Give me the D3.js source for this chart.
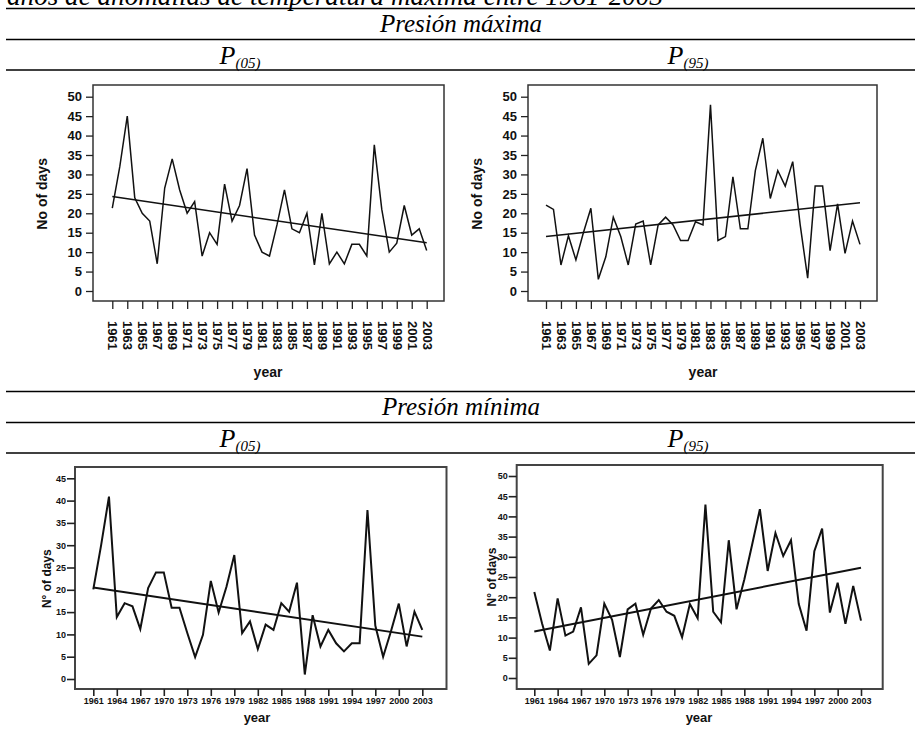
<!DOCTYPE html>
<html lang="es">
<head>
<meta charset="UTF-8">
<title>Presión máxima / mínima</title>
<script src="https://d3js.org/d3.v7.min.js"></script>
<style>
  body { margin: 0; background: #fff; }
  .hdr { font-family: "Liberation Serif", "Times New Roman", serif; font-style: italic; fill: #000; }
  .ax text { font-family: "Liberation Sans", Arial, sans-serif; font-weight: bold; fill: #111; }
  .ax line, .ax path { stroke: #222; }
</style>
</head>
<body>
<svg id="chart" width="915" height="741"></svg>
<script>
// years on the x axis
const years = d3.range(1961, 2004);

// number of days per year
const maxP05 = [21.3, 32, 45, 24, 20, 18, 7, 26.5, 34, 26, 20, 23, 9, 15, 12, 27.5, 18, 22, 31.5, 14.4,
  10, 9, 17, 26, 16, 15, 20, 6.7, 20, 7, 10, 7, 12, 12, 9, 37.6, 21, 10, 12.3, 22, 14.4, 16, 10.4];
const maxP95 = [22.1, 21, 6.7, 14.2, 8, 15, 21.3, 3, 8.8, 19, 14, 6.7, 17.2, 18, 6.7, 17, 19, 17, 13, 13,
  17.8, 17, 47.9, 13, 14, 29.4, 16, 16, 31, 39.3, 23.8, 31, 27, 33.3, 17, 3.3, 27, 27, 10.4, 22.4, 9.7, 18, 12];
const minP05 = [20.1, 30, 40.9, 13.9, 17, 16.3, 11.2, 20.4, 23.9, 23.9, 16, 16, 10.3, 4.9, 9.9, 22, 14.9, 20.7, 27.8, 10.3,
  12.9, 6.7, 12.2, 11, 17, 15.1, 21.6, 1, 14.3, 7.3, 11, 8, 6.2, 8, 8, 37.9, 12, 5, 10.7, 16.9, 7.3, 15.1, 11];
const minP95 = [21.3, 13.5, 6.8, 19.7, 10.5, 11.5, 17.5, 3.5, 5.6, 18.4, 14.4, 5.2, 17, 18.4, 10.7, 17.2, 19.3, 16.4, 15.4, 10.1,
  18.3, 14.8, 42.9, 16.4, 13.8, 34.1, 17, 24.4, 33, 41.8, 26.5, 35.9, 30.2, 34.1, 18.3, 11.7, 31.4, 37, 16.2, 23.6, 13.4, 22.8, 14.2];

// fitted trend line, value at the first and at the last year
const trendMaxP05 = [24.3, 12.4];
const trendMaxP95 = [14.0, 22.7];
const trendMinP05 = [20.5, 9.5];
const trendMinP95 = [11.5, 27.3];

// ticks and labels
const yTicksMax = d3.range(0, 51, 5);
const yTicksMinP05 = d3.range(0, 46, 5);
const yTicksMinP95 = d3.range(0, 51, 5);
const xTicksMax = d3.range(1961, 2004, 2);
const xTicksMin = d3.range(1961, 2004, 3);
const sections = ['Presión máxima', 'Presión mínima'];
const pLabels = [['P', '(05)'], ['P', '(95)']];

const svg = d3.select('#chart');

// ---- table headers ----
// caption of the table, cut off by the top edge as in the source
svg.append('text').attr('class', 'hdr')
    .attr('x', 7).attr('y', 4.5).attr('font-size', 27)
    .attr('textLength', 656).attr('lengthAdjust', 'spacingAndGlyphs')
    .text('años de anomalías de temperatura máxima entre 1961-2003');

function header(top, title) {
    [top, top + 31, top + 61.5].forEach(y => {
        svg.append('line')
            .attr('x1', 6).attr('x2', 915).attr('y1', y).attr('y2', y)
            .attr('stroke', '#000').attr('stroke-width', 1.6);
    });
    svg.append('text').attr('class', 'hdr')
        .attr('x', 461).attr('y', top + 23.5).attr('text-anchor', 'middle')
        .attr('font-size', 25).text(title);
    [240, 688].forEach((cx, i) => {
        const t = svg.append('text').attr('class', 'hdr')
            .attr('x', cx).attr('y', top + 55.5).attr('text-anchor', 'middle');
        t.append('tspan').attr('font-size', 26).text(pLabels[i][0]);
        t.append('tspan').attr('font-size', 15).attr('dy', 4).text(pLabels[i][1]);
    });
}
header(8.5, sections[0]);
header(391.5, sections[1]);

// ---- panels ----
const panels = [
    { data: maxP05, trend: trendMaxP05, box: [93, 85, 444, 301], xr: [112.3, 426.7], yr: [291, 96.7],
      yTicks: yTicksMax, xTicks: xTicksMax, big: true, ylab: 'No of days', ylabX: 42, yearX: 268 },
    { data: maxP95, trend: trendMaxP95, box: [528, 85, 877, 301], xr: [546, 860], yr: [291, 96.7],
      yTicks: yTicksMax, xTicks: xTicksMax, big: true, ylab: 'No of days', ylabX: 477, yearX: 703 },
    { data: minP05, trend: trendMinP05, box: [75, 467, 446.5, 689], xr: [93.3, 422.3], yr: [679, 478.3],
      yTicks: yTicksMinP05, xTicks: xTicksMin, big: false, ylab: 'N° of days', ylabX: 47, yearX: 257 },
    { data: minP95, trend: trendMinP95, box: [516.7, 465, 882.7, 689], xr: [534.3, 861], yr: [678, 476],
      yTicks: yTicksMinP95, xTicks: xTicksMin, big: false, ylab: 'N° of days', ylabX: 492, yearX: 699 }
];

panels.forEach(p => {
    const [x0, y0, x1, y1] = p.box;
    const x = d3.scaleLinear().domain([1961, 2003]).range(p.xr);
    const top = p.yTicks[p.yTicks.length - 1];
    const y = d3.scaleLinear().domain([0, top]).range(p.yr);
    const g = svg.append('g');
    const sw = p.big ? 1.5 : 2;

    // frame
    g.append('rect')
        .attr('x', x0).attr('y', y0).attr('width', x1 - x0).attr('height', y1 - y0)
        .attr('fill', 'none').attr('stroke', p.big ? '#333' : '#444').attr('stroke-width', sw);

    // y axis
    const yAxis = g.append('g').attr('class', 'ax')
        .attr('transform', `translate(${x0},0)`)
        .call(d3.axisLeft(y).tickValues(p.yTicks).tickSize(p.big ? 7 : 8).tickPadding(p.big ? 4 : 1).tickFormat(d3.format('d')));
    yAxis.select('.domain').remove();
    yAxis.selectAll('line').attr('stroke-width', p.big ? 1.3 : 1.6);
    yAxis.selectAll('text').attr('font-size', p.big ? 13 : 9);

    // x axis
    const xAxis = g.append('g').attr('class', 'ax')
        .attr('transform', `translate(0,${y1})`)
        .call(d3.axisBottom(x).tickValues(p.xTicks).tickSize(p.big ? 8 : 7).tickFormat(d3.format('d')));
    xAxis.select('.domain').remove();
    xAxis.selectAll('line').attr('stroke-width', p.big ? 1.3 : 1.6);
    if (p.big) {
        xAxis.selectAll('text')
            .attr('font-size', 13)
            .attr('text-anchor', 'start')
            .attr('y', 0).attr('dy', '0.35em')
            .attr('transform', 'translate(0,20) rotate(90)');
    } else {
        xAxis.selectAll('text').attr('font-size', 9).attr('y', 9);
    }

    // axis titles
    const cy = (p.yr[0] + p.yr[1]) / 2;
    g.append('text')
        .attr('transform', `translate(${p.ylabX},${cy}) rotate(-90)`)
        .attr('text-anchor', 'middle').attr('dy', '0.35em')
        .style('font-family', '"Liberation Sans", Arial, sans-serif').style('font-weight', 'bold')
        .attr('font-size', p.big ? 14 : 12).attr('fill', '#111')
        .text(p.ylab);
    g.append('text')
        .attr('x', p.yearX).attr('y', p.big ? 377 : 722)
        .attr('text-anchor', 'middle')
        .style('font-family', '"Liberation Sans", Arial, sans-serif').style('font-weight', 'bold')
        .attr('font-size', p.big ? 14 : 13).attr('fill', '#111')
        .text('year');

    // series line
    const line = d3.line().x((d, i) => x(years[i])).y(d => y(d));
    g.append('path').datum(p.data)
        .attr('d', line)
        .attr('fill', 'none').attr('stroke', '#111').attr('stroke-width', sw);

    // trend
    g.append('line')
        .attr('x1', x(1961)).attr('y1', y(p.trend[0]))
        .attr('x2', x(2003)).attr('y2', y(p.trend[1]))
        .attr('stroke', '#111').attr('stroke-width', sw);
});
</script>
</body>
</html>
